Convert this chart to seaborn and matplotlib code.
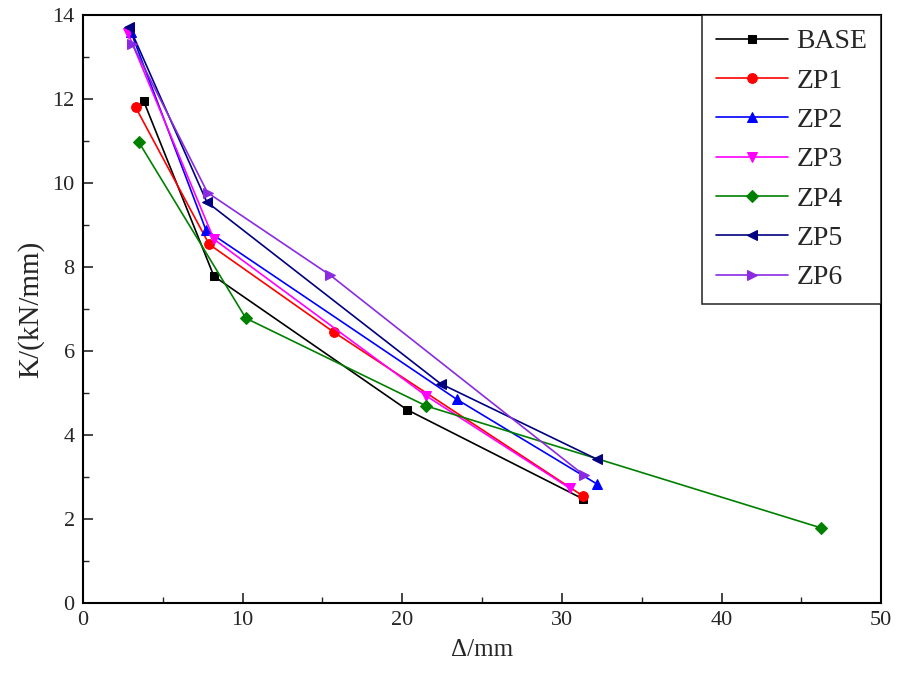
import numpy as np
import pandas as pd
import matplotlib
matplotlib.use("Agg")
import matplotlib.pyplot as plt
import seaborn as sns
from matplotlib.ticker import MultipleLocator

# 数据：位移 Δ (mm) 与刚度 K (kN/mm)
series = ["BASE", "ZP1", "ZP2", "ZP3", "ZP4", "ZP5", "ZP6"]
base_x = [3.8, 8.2, 20.3, 31.3]
base_y = [11.95, 7.78, 4.60, 2.48]
zp1_x = [3.3, 7.9, 15.7, 31.3]
zp1_y = [11.80, 8.54, 6.45, 2.55]
zp2_x = [3.0, 7.7, 23.4, 32.2]
zp2_y = [13.60, 8.88, 4.85, 2.83]
zp3_x = [2.8, 8.2, 21.5, 30.5]
zp3_y = [13.58, 8.66, 4.93, 2.73]
zp4_x = [3.5, 10.2, 21.5, 46.2]
zp4_y = [10.97, 6.78, 4.69, 1.79]
zp5_x = [2.9, 7.75, 22.4, 32.2]
zp5_y = [13.72, 9.55, 5.22, 3.42]
zp6_x = [3.1, 7.8, 15.5, 31.35]
zp6_y = [13.30, 9.77, 7.80, 3.05]

all_x = [base_x, zp1_x, zp2_x, zp3_x, zp4_x, zp5_x, zp6_x]
all_y = [base_y, zp1_y, zp2_y, zp3_y, zp4_y, zp5_y, zp6_y]

colors = ["black", "red", "blue", "magenta", "green", "navy", "#8A2BE2"]
markers = ["s", "o", "^", "v", "D", "<", ">"]
msizes = [6, 7, 7, 7, 6, 7, 7]

rows = []
for name, xs, ys in zip(series, all_x, all_y):
    for x, y in zip(xs, ys):
        rows.append({"series": name, "disp": x, "K": y})
df = pd.DataFrame(rows)

sns.set_theme(style="ticks")
plt.rcParams["font.family"] = ["Liberation Serif", "DejaVu Serif"]

fig = plt.figure(figsize=(8.98, 6.79), dpi=100)
ax = fig.add_axes([0.0924, 0.112, 0.889, 0.866])

for name, c, m, ms in zip(series, colors, markers, msizes):
    sub = df[df["series"] == name]
    sns.lineplot(data=sub, x="disp", y="K", ax=ax, color=c, marker=m,
                 markersize=ms, markeredgecolor=c, linewidth=1.2,
                 label=name, sort=False, estimator=None)

ax.set_xlim(0, 50)
ax.set_ylim(0, 14)
ax.xaxis.set_major_locator(MultipleLocator(10))
ax.xaxis.set_minor_locator(MultipleLocator(5))
ax.yaxis.set_major_locator(MultipleLocator(2))
ax.yaxis.set_minor_locator(MultipleLocator(1))
ax.tick_params(which="major", direction="in", length=7, width=1.2,
               labelsize=16, top=False, right=False, pad=6)
ax.tick_params(which="minor", direction="in", length=4, width=1.0,
               top=False, right=False)
for s in ax.spines.values():
    s.set_linewidth(1.5)
    s.set_color("black")

ax.set_xlabel("Δ/mm", fontsize=18, labelpad=6)
ax.set_ylabel("K/(kN/mm)", fontsize=21, labelpad=6)

leg = ax.legend(loc="upper right", fontsize=20, frameon=True, fancybox=False,
                edgecolor="black", handlelength=2.6, handletextpad=0.3,
                borderaxespad=0.0, labelspacing=0.5, borderpad=0.5)
leg.get_frame().set_linewidth(1.2)

fig.savefig("out.png", dpi=100)
